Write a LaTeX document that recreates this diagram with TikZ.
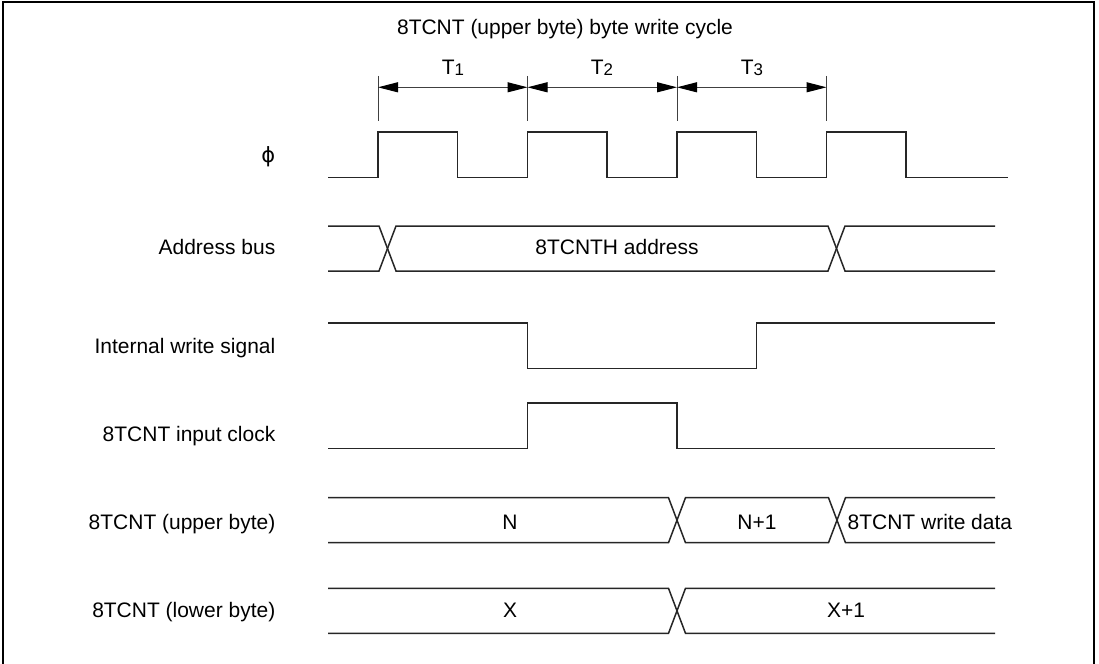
\documentclass[tikz,border=0pt]{standalone}
\usepackage{fontspec}
\setmainfont{Liberation Sans}
\newfontfamily\phifont{DejaVu Sans}
\usetikzlibrary{arrows.meta}

\newcommand{\tsub}[1]{\raisebox{-0.2pt}{\fontsize{4.8}{5}\selectfont #1}}

\begin{document}
\begin{tikzpicture}[x=1cm,y=-1cm,
    sig/.style={line width=0.015cm, black!85},
    dim/.style={line width=0.01cm, black!75},
    tip/.style={{Triangle[length=0.2cm,width=0.1cm,color=black]}-{Triangle[length=0.2cm,width=0.1cm,color=black]}},
    lbl/.style={font=\fontsize{5.97}{7}\selectfont, inner sep=0pt}]
    \useasboundingbox (0,0) rectangle (10.99,6.64);

    % Frame
    \draw[line width=0.02cm] (0.03,6.64) -- (0.03,0.02) -- (10.94,0.02) -- (10.94,6.64);

    % Title
    \node[lbl, anchor=base] (title) at (5.65,0.343) {8TCNT (upper byte) byte write cycle};

    % Cycle edges
    \coordinate (c0) at (3.78,0.873);
    \coordinate (c1) at (5.275,0.873);
    \coordinate (c2) at (6.77,0.873);
    \coordinate (c3) at (8.265,0.873);
    \foreach \c in {c0,c1,c2,c3} {
        \draw[dim] (\c) ++(0,-0.113) -- ++(0,0.45);
    }
    \draw[dim, tip] (c0) -- (c1);
    \draw[dim, tip] (c1) -- (c2);
    \draw[dim, tip] (c2) -- (c3);
    \node[lbl, anchor=base] (t1) at (4.53,0.75) {T\tsub{1}};
    \node[lbl, anchor=base] (t2) at (6.02,0.75) {T\tsub{2}};
    \node[lbl, anchor=base] (t3) at (7.52,0.75) {T\tsub{3}};

    % Signal names
    \node[lbl, anchor=east] (lphi) at (2.76,1.57) {\phifont ϕ};
    \node[lbl, anchor=base east] (laddr) at (2.76,2.55) {Address bus};
    \node[lbl, anchor=base east] (lwr) at (2.76,3.54) {Internal write signal};
    \node[lbl, anchor=base east] (lclk) at (2.76,4.41) {8TCNT input clock};
    \node[lbl, anchor=base east] (lup) at (2.76,5.29) {8TCNT (upper byte)};
    \node[lbl, anchor=base east] (llo) at (2.76,6.17) {8TCNT (lower byte)};

    % phi
    \draw[sig] (3.28,1.775)
        \foreach \r in {3.78,5.275,6.77,8.265} {
            -- (\r,1.775) -- ++(0,-0.455) -- ++(0.795,0) -- ++(0,0.455)
        } -- (10.08,1.775);

    % Address bus
    \draw[sig] (3.28,2.26) -- (3.79,2.26) -- (3.96,2.71) -- (8.28,2.71) -- (8.45,2.26) -- (9.95,2.26);
    \draw[sig] (3.28,2.71) -- (3.79,2.71) -- (3.96,2.26) -- (8.28,2.26) -- (8.45,2.71) -- (9.95,2.71);
    \node[lbl, anchor=base] (addr) at (6.17,2.55) {8TCNTH address};

    % Internal write signal
    \draw[sig] (3.28,3.23) -- (5.275,3.23) -- (5.275,3.683) -- (7.565,3.683) -- (7.565,3.23) -- (9.95,3.23);

    % 8TCNT input clock
    \draw[sig] (3.28,4.483) -- (5.275,4.483) -- (5.275,4.03) -- (6.77,4.03) -- (6.77,4.483) -- (9.95,4.483);

    % Upper byte
    \draw[sig] (3.28,4.977) -- (6.685,4.977) -- (6.855,5.427) -- (8.285,5.427) -- (8.455,4.977) -- (9.95,4.977);
    \draw[sig] (3.28,5.427) -- (6.685,5.427) -- (6.855,4.977) -- (8.285,4.977) -- (8.455,5.427) -- (9.95,5.427);
    \node[lbl, anchor=base] (n) at (5.1,5.29) {N};
    \node[lbl, anchor=base] (n1) at (7.57,5.29) {N+1};
    \node[lbl, anchor=base west] (wd) at (8.47,5.29) {8TCNT write data};

    % Lower byte
    \draw[sig] (3.28,5.883) -- (6.685,5.883) -- (6.855,6.333) -- (9.95,6.333);
    \draw[sig] (3.28,6.333) -- (6.685,6.333) -- (6.855,5.883) -- (9.95,5.883);
    \node[lbl, anchor=base] (x) at (5.1,6.17) {X};
    \node[lbl, anchor=base] (x1) at (8.46,6.17) {X+1};
\end{tikzpicture}
\end{document}
